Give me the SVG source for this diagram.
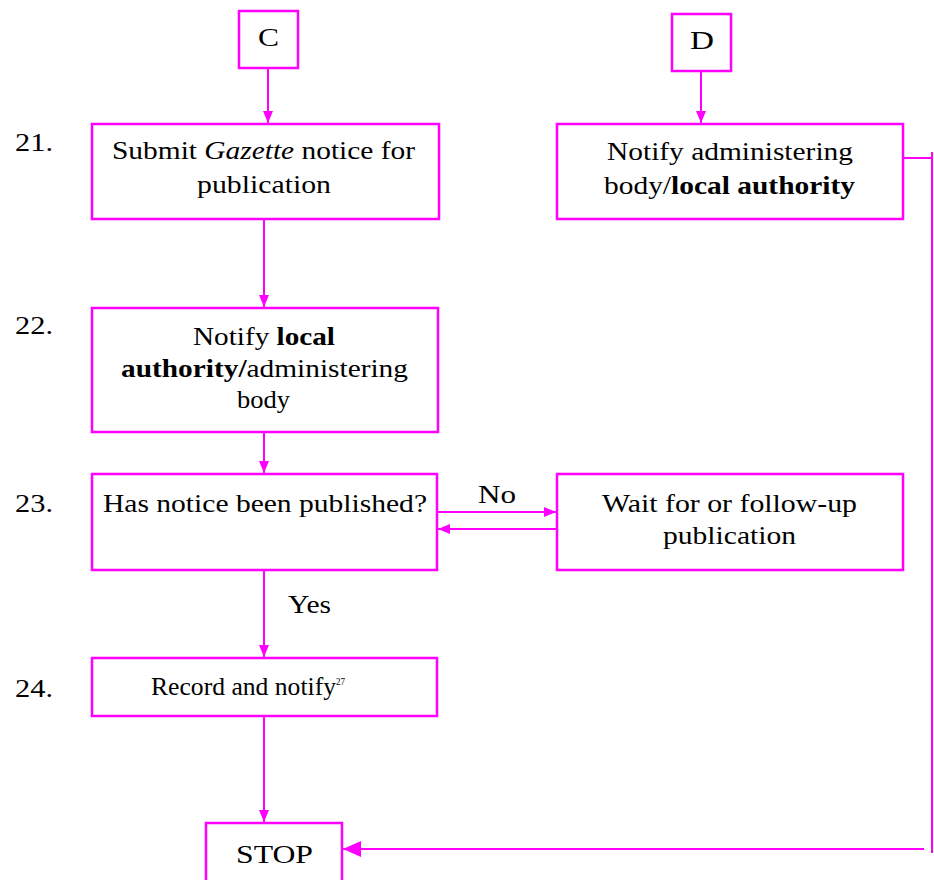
<svg xmlns="http://www.w3.org/2000/svg" width="934" height="880" viewBox="0 0 934 880">
<defs>
<marker id="a" markerWidth="12" markerHeight="10" refX="12" refY="5" orient="auto" markerUnits="userSpaceOnUse"><path d="M0,0L12,5L0,10Z" fill="#ff00ff"/></marker>
<marker id="A" markerWidth="18" markerHeight="16" refX="18" refY="8" orient="auto" markerUnits="userSpaceOnUse"><path d="M0,0L18,8L0,16Z" fill="#ff00ff"/></marker>
</defs>
<g font-family="'Liberation Serif', 'Times New Roman', serif" font-size="25" fill="#000">
<g id="labels">
<text x="15" y="151" textLength="38" lengthAdjust="spacingAndGlyphs">21.</text>
<text x="15" y="334" textLength="38" lengthAdjust="spacingAndGlyphs">22.</text>
<text x="15" y="512" textLength="38" lengthAdjust="spacingAndGlyphs">23.</text>
<text x="15" y="697" textLength="38" lengthAdjust="spacingAndGlyphs">24.</text>
</g>
<g fill="#fff" stroke="#ff00ff" stroke-width="2.5">
<rect x="239" y="11" width="59" height="57"/>
<rect x="672" y="14" width="59" height="57"/>
<rect x="92" y="124" width="347" height="95"/>
<rect x="557" y="124" width="346" height="95"/>
<rect x="92" y="308" width="346" height="124"/>
<rect x="92" y="474" width="345" height="96"/>
<rect x="557" y="474" width="346" height="96"/>
<rect x="92" y="658" width="345" height="58"/>
<rect x="206" y="823" width="136" height="70"/>
</g>
<g lengthAdjust="spacingAndGlyphs">
<g id="nC"><text x="258" y="46" textLength="21" lengthAdjust="spacingAndGlyphs">C</text></g>
<g id="nD"><text x="690" y="49" textLength="24" lengthAdjust="spacingAndGlyphs">D</text></g>
<g id="n21"><text x="112" y="159" textLength="303" lengthAdjust="spacingAndGlyphs">Submit <tspan font-style="italic">Gazette</tspan> notice for</text><text x="197" y="193" textLength="134" lengthAdjust="spacingAndGlyphs">publication</text></g>
<g id="nDn"><text x="607" y="160" textLength="246" lengthAdjust="spacingAndGlyphs">Notify administering</text><text x="604" y="194" textLength="251" lengthAdjust="spacingAndGlyphs">body/<tspan font-weight="bold">local authority</tspan></text></g>
<g id="n22"><text x="193" y="345" textLength="142" lengthAdjust="spacingAndGlyphs">Notify <tspan font-weight="bold">local</tspan></text><text x="121" y="377" textLength="287" lengthAdjust="spacingAndGlyphs"><tspan font-weight="bold">authority/</tspan>administering</text><text x="237" y="408" textLength="53" lengthAdjust="spacingAndGlyphs">body</text></g>
<g id="n23"><text x="103" y="512" textLength="324" lengthAdjust="spacingAndGlyphs">Has notice been published?</text></g>
<g id="nW"><text x="602" y="512" textLength="255" lengthAdjust="spacingAndGlyphs">Wait for or follow-up</text><text x="663" y="544" textLength="133" lengthAdjust="spacingAndGlyphs">publication</text></g>
<g id="n24"><text x="151" y="695" textLength="185" lengthAdjust="spacingAndGlyphs">Record and notify</text><text x="336" y="685" font-size="11" textLength="9" lengthAdjust="spacingAndGlyphs">27</text></g>
<g id="nS"><text x="236" y="863" textLength="77" lengthAdjust="spacingAndGlyphs">STOP</text></g>
<text x="478" y="503" textLength="38" lengthAdjust="spacingAndGlyphs">No</text>
<text x="288" y="613" textLength="43" lengthAdjust="spacingAndGlyphs">Yes</text>
</g>
</g>
<g id="connectors" fill="none" stroke="#ff00ff" stroke-width="2">
<line x1="268" y1="68" x2="268" y2="123" marker-end="url(#a)"/>
<line x1="701" y1="71" x2="701" y2="123" marker-end="url(#a)"/>
<line x1="264" y1="219" x2="264" y2="307" marker-end="url(#a)"/>
<line x1="264" y1="432" x2="264" y2="473" marker-end="url(#a)"/>
<line x1="437" y1="512" x2="556" y2="512" marker-end="url(#a)"/>
<line x1="557" y1="529" x2="438" y2="529" marker-end="url(#a)"/>
<line x1="264" y1="570" x2="264" y2="657" marker-end="url(#a)"/>
<line x1="264" y1="716" x2="264" y2="822" marker-end="url(#a)"/>
<line x1="903" y1="158" x2="932" y2="158"/>
<line x1="932" y1="152" x2="932" y2="853"/>
<line x1="924" y1="849" x2="343" y2="849" marker-end="url(#A)"/>
</g>
</svg>
